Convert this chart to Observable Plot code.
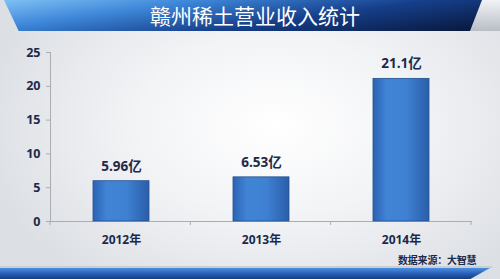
<!DOCTYPE html>
<html><head><meta charset="utf-8">
<script src="https://cdn.jsdelivr.net/npm/d3@7"></script>
<script src="https://cdn.jsdelivr.net/npm/@observablehq/plot@0.6"></script>
<style>
html,body{margin:0;padding:0;}
body{width:500px;height:279px;overflow:hidden;position:relative;
 background: radial-gradient(ellipse 60% 70% at 55% 45%, #ffffff 0%, #f3f4f6 45%, #dcdfe4 100%);
 font-family:"Noto Sans CJK SC","Noto Sans",sans-serif;}
#banner{position:absolute;left:4px;top:0;width:490px;height:31px;
 background: linear-gradient(172deg, #7fc0f5 0%, #3d86d8 28%, #163f8a 60%, #071537 100%);
 clip-path: polygon(0 0,100% 0,97% 100%,3% 100%);}
#bannerEdge{position:absolute;right:0;top:0;width:30px;height:31px;
 background:linear-gradient(180deg,#f0f2f5,#b9bec6);clip-path:polygon(40% 0,100% 0,100% 100%,0 100%);}
#title{position:absolute;left:0;top:0;width:510px;height:31px;line-height:31px;text-align:center;
 color:#fff;font-size:21px;font-weight:400;font-family:"Noto Sans CJK SC",sans-serif;}
#chart{position:absolute;left:0;top:32px;}
#source{position:absolute;left:398px;top:252px;font-size:10px;font-weight:bold;color:#1c2a4a;
 font-family:"Noto Sans CJK SC",sans-serif;letter-spacing:-0.2px;}
#bottomLine{position:absolute;left:0;top:266px;width:492px;height:2px;background:#c9ced6;}
#bottom{position:absolute;left:0;top:268px;width:490px;height:11px;
 background:linear-gradient(180deg,#4a8fe0 0%,#2358b0 60%,#163c80 100%);
 clip-path:polygon(0 0,100% 0,96% 100%,0 100%);}
</style></head>
<body>
<div id="banner"></div>
<div id="bannerEdge"></div>
<div id="title">赣州稀土营业收入统计</div>
<div id="chart"></div>
<div id="source">数据来源：大智慧</div>
<div id="bottomLine"></div>
<div id="bottom"></div>
<script>
const years = ["2012年", "2013年", "2014年"];
const revenue = [5.96, 6.53, 21.1];
const valueLabels = ["5.96亿", "6.53亿", "21.1亿"];
const yTicks = [0, 5, 10, 15, 20, 25];

const data = years.map((y, i) => ({year: y, value: revenue[i], label: valueLabels[i]}));
const ink = "#1c2a4a";

const chart = Plot.plot({
  width: 500,
  height: 247,
  marginTop: 20,
  marginBottom: 58,
  marginLeft: 50,
  marginRight: 29,
  style: {background: "transparent", fontFamily: "'Open Sans','Noto Sans CJK SC',sans-serif", overflow: "visible"},
  x: {domain: years, paddingInner: 0.6, paddingOuter: 0.3, label: null},
  y: {domain: [0, 25], label: null},
  marks: [
    Plot.frame({anchor: "left", stroke: "#a9adb3"}),
    Plot.frame({anchor: "bottom", stroke: "#a9adb3"}),
    Plot.axisY({ticks: yTicks, tickSize: 4, tickPadding: 6, stroke: "#a9adb3", fill: ink, fontSize: 12.5, fontWeight: "bold", label: null}),
    Plot.axisX({tickSize: 0, tickPadding: 14, fill: ink, fontSize: 12, fontWeight: "bold", label: null}),
    Plot.barY(data, {x: "year", y: "value", fill: "url(#barGrad)", stroke: "#24508f", strokeWidth: 0.8}),
    Plot.text(data, {x: "year", y: "value", text: "label", dy: -15, fill: ink, fontSize: 13.5, fontWeight: "bold"})
  ]
});

// gradient definition for bars
const svg = d3.select(chart);
const defs = svg.insert("defs", ":first-child");
const g = defs.append("linearGradient").attr("id", "barGrad").attr("x1", 0).attr("x2", 1).attr("y1", 0).attr("y2", 0);
[["0%", "#2b63b4"], ["25%", "#4184d6"], ["60%", "#3f80d2"], ["100%", "#2a5ea9"]].forEach(([o, c]) =>
  g.append("stop").attr("offset", o).attr("stop-color", c));

// boundary tick marks on x axis, derived from the band scale range
const xs = chart.scale("x");
const ys = chart.scale("y");
const r0 = xs.range[0], r1 = xs.range[1];
const edges = d3.range(years.length + 1).map(i => r0 + i * (r1 - r0) / years.length);
const y0 = ys.apply(0);
svg.append("g").selectAll("line").data(edges).join("line")
  .attr("x1", d => d).attr("x2", d => d).attr("y1", y0).attr("y2", y0 + 4)
  .attr("stroke", "#a9adb3");

document.getElementById("chart").appendChild(chart);
</script>
</body></html>
